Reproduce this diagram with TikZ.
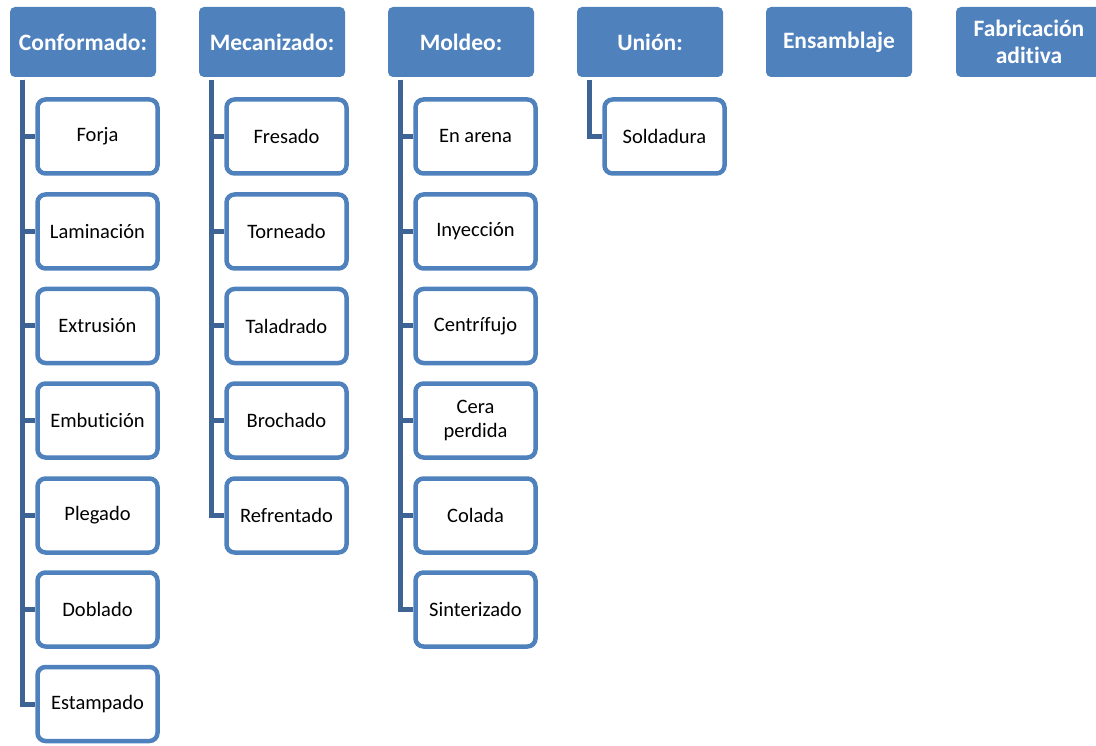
\documentclass[tikz,border=0pt]{standalone}
\usepackage{fontspec}
\setmainfont[Ligatures={NoCommon}]{Carlito}
\definecolor{hdr}{HTML}{4F81BD}
\definecolor{conn}{HTML}{3E6496}
\tikzset{
  hdrbox/.style={fill=hdr, rounded corners=5pt, minimum width=146pt, minimum height=70pt, inner sep=2pt, text=white, align=center, font=\fontsize{23.5}{26}\selectfont\bfseries},
  childbox/.style={draw=hdr, fill=white, line width=4.5pt, rounded corners=8pt, minimum width=120pt, minimum height=74pt, inner sep=2pt, align=center, font=\fontsize{20.5}{24}\selectfont},
  connline/.style={draw=conn, line width=5pt}
}
\begin{document}
\begin{tikzpicture}[x=1pt,y=-1pt]
\useasboundingbox (0,0) rectangle (1096,746);
% headers (left x: 10,199,388,577,766,955)
\node[hdrbox] (h1) at (83,42) {Conformado:};
\node[hdrbox] (h2) at (272,42) {Mecanizado:};
\node[hdrbox] (h3) at (461,42) {Moldeo:};
\node[hdrbox] (h4) at (650,42) {Unión:};
\node[hdrbox] (h5) at (839,42) {Ensamblaje};
\node[hdrbox] (h6) at (1029,42) {Fabricación\\[1pt]aditiva};
% top coordinates for connectors
\coordinate (t1) at (22.5,80);
\coordinate (t2) at (211.5,80);
\coordinate (t3) at (400.5,80);
\coordinate (t4) at (589.5,80);
% Conformado children
\foreach \n/\y/\t in {1/136.5/Forja, 2/231.5/Laminación, 3/326/Extrusión, 4/420.5/Embutición, 5/515.5/Plegado, 6/609.5/Doblado, 7/704/Estampado}{
  \node[childbox] (a\n) at (97.5,\y) {\t};
  \draw[connline] (t1) |- (a\n.west);
}
% Mecanizado children
\foreach \n/\y/\t in {1/136.5/Fresado, 2/231.5/Torneado, 3/326/Taladrado, 4/420.5/Brochado, 5/515.5/Refrentado}{
  \node[childbox] (b\n) at (286.5,\y) {\t};
  \draw[connline] (t2) |- (b\n.west);
}
% Moldeo children
\foreach \n/\y/\t in {1/136.5/En arena, 2/231.5/Inyección, 3/326/Centrífujo, 4/420.5/{Cera\\[0pt]perdida}, 5/515.5/Colada, 6/609.5/Sinterizado}{
  \node[childbox] (c\n) at (475.5,\y) {\t};
  \draw[connline] (t3) |- (c\n.west);
}
% Unión child
\node[childbox] (d1) at (664.5,136.5) {Soldadura};
\draw[connline] (t4) |- (d1.west);
\end{tikzpicture}
\end{document}
